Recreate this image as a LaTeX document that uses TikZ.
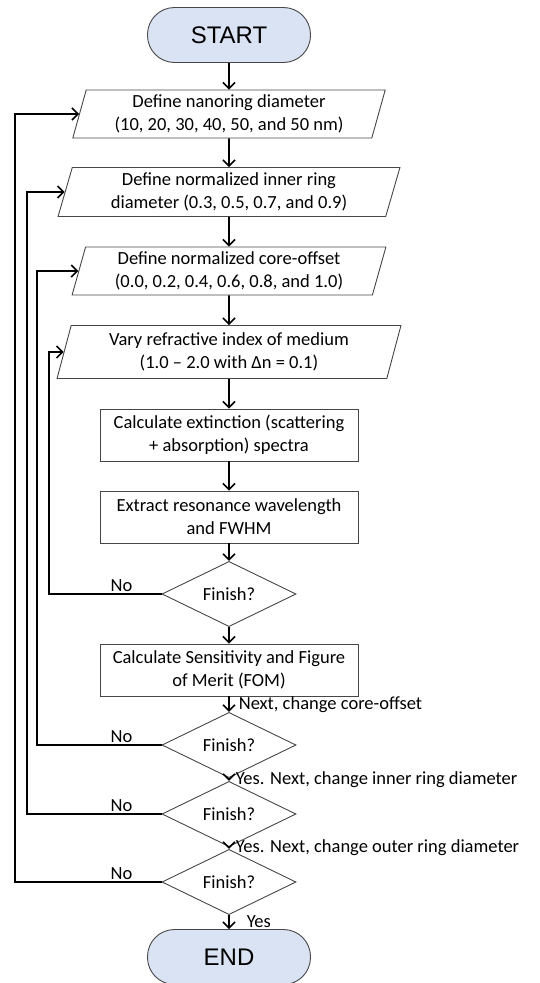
\documentclass[tikz,border=0pt]{standalone}
\usepackage{fontspec}
\setmainfont{Carlito}
\newfontfamily\arialfont{Liberation Sans}
\usetikzlibrary{shapes.geometric, arrows.meta}

\definecolor{termfill}{RGB}{218,227,243}
\definecolor{edgegray}{RGB}{70,70,70}

\tikzset{
  base/.style={draw=edgegray, line width=0.9pt, align=center, inner sep=1pt,
    font=\fontsize{18.5}{23}\selectfont},
  term/.style={base, fill=termfill, rounded corners=27pt, minimum width=163,
    minimum height=55, font=\arialfont\fontsize{24}{28}\selectfont},
  io/.style={base, trapezium, trapezium left angle=75, trapezium right angle=105,
    trapezium stretches=true, minimum height=48},
  proc/.style={base, rectangle, minimum width=258, minimum height=52},
  decide/.style={base, diamond, minimum width=134, minimum height=43, inner sep=0pt},
  flow/.style={line width=1.6pt, -{Straight Barb[length=6pt, width=12pt]}},
  lbl/.style={font=\fontsize{18.5}{22}\selectfont, inner sep=2pt}
}

\begin{document}
\begin{tikzpicture}[x=1pt, y=-1pt]
\useasboundingbox (0,0) rectangle (539,983);

\node[term] (start) at (229,35) {START};
\node[io, minimum width=313] (para1) at (229,114) {Define nanoring diameter\\(10, 20, 30, 40, 50, and 50 nm)};
\node[io, minimum width=342, minimum height=49] (para2) at (229,192) {Define normalized inner ring\\diameter (0.3, 0.5, 0.7, and 0.9)};
\node[io, minimum width=314] (para3) at (229,271) {Define normalized core-offset\\(0.0, 0.2, 0.4, 0.6, 0.8, and 1.0)};
\node[io, minimum width=345, minimum height=53] (para4) at (229,352) {Vary refractive index of medium\\(1.0 – 2.0 with Δn = 0.1)};
\node[proc] (calc) at (229,435) {Calculate extinction (scattering\\+ absorption) spectra};
\node[proc] (extract) at (229,517) {Extract resonance wavelength\\and FWHM};
\node[decide] (d1) at (229,594) {Finish?};
\node[proc] (fom) at (229,670) {Calculate Sensitivity and Figure\\of Merit (FOM)};
\node[decide] (d2) at (229,745) {Finish?};
\node[decide] (d3) at (229,814) {Finish?};
\node[decide] (d4) at (229,882) {Finish?};
\node[term] (end) at (229,957) {END};

% main flow
\foreach \a/\b in {start/para1, para1/para2, para2/para3, para3/para4, para4/calc, calc/extract, extract/d1, d1/fom}
  \draw[flow] (\a) -- (\b);
\draw[flow] (fom) -- node[lbl, right, xshift=7pt] {Next, change core-offset} (d2);
\draw[flow] (d2) -- node[lbl, right, xshift=4pt] {Yes. Next, change inner ring diameter} (d3);
\draw[flow] (d3) -- node[lbl, right, xshift=4pt] {Yes. Next, change outer ring diameter} (d4);
\draw[flow] (d4) -- node[lbl, right, xshift=15pt] {Yes} (end);

% loops back
\foreach \d/\p/\x in {d1/para4/49, d2/para3/37, d3/para2/27, d4/para1/15} {
  \coordinate (col) at (\x,0);
  \draw[flow] (\d.west) -- (\d.west -| col) |- (\p.left side);
  \node[lbl, above] at ([xshift=-40pt]\d.west) {No};
}
\end{tikzpicture}
\end{document}
